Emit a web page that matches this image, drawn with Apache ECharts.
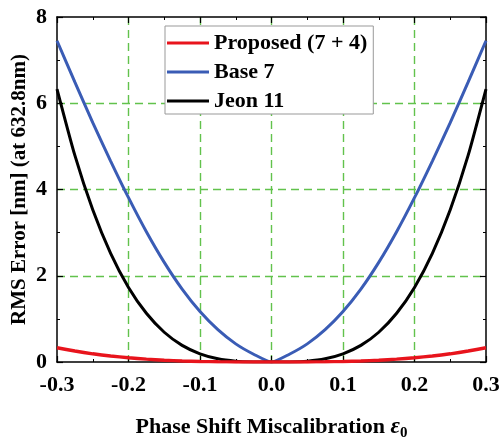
<!DOCTYPE html>
<html>
<head>
<meta charset="utf-8">
<script src="https://cdn.jsdelivr.net/npm/echarts@6/dist/echarts.min.js"></script>
<style>
html,body{margin:0;padding:0;background:#fff;}
#c{width:500px;height:439px;}
</style>
</head>
<body>
<div id="c"></div>
<script>
// Phase shift miscalibration (x)
var xs = [-0.3,-0.275,-0.25,-0.225,-0.2,-0.175,-0.15,-0.125,-0.1,-0.075,-0.05,-0.025,0,
          0.025,0.05,0.075,0.1,0.125,0.15,0.175,0.2,0.225,0.25,0.275,0.3];
// RMS error values
var proposed = [0.33,0.254,0.19,0.139,0.098,0.066,0.041,0.024,0.012,0.005,0.0015,0.0002,0,
                0.0002,0.0015,0.005,0.012,0.024,0.041,0.066,0.098,0.139,0.19,0.254,0.33];
var base7 = [7.45,6.49,5.55,4.66,3.81,3.02,2.31,1.69,1.17,0.75,0.42,0.18,0,
             0.18,0.42,0.75,1.17,1.69,2.31,3.02,3.81,4.66,5.55,6.49,7.45];
var jeon11 = [6.33,4.79,3.53,2.52,1.73,1.13,0.69,0.385,0.19,0.075,0.02,0.002,0,
              0.002,0.02,0.075,0.19,0.385,0.69,1.13,1.73,2.52,3.53,4.79,6.33];
var seriesNames = ['Proposed (7 + 4)','Base 7','Jeon 11'];
var xTicks = [-0.3,-0.2,-0.1,0.0,0.1,0.2,0.3];
var yTicks = [0,2,4,6,8];

function pairs(ys){ return xs.map(function(x,i){ return [x, ys[i]]; }); }

var font = '"Liberation Serif","Times New Roman",serif';
var green = '#62c24c';
var axisCommon = {
  axisLine:{show:true, onZero:false, lineStyle:{color:'#000', width:1.5}},
  axisTick:{show:true, inside:true, length:6, lineStyle:{color:'#000', width:1.2}},
  minorTick:{show:true, splitNumber:2, length:3, lineStyle:{color:'#000', width:1}}
};
function merge(a,b){ var o={}; for(var k in a) o[k]=a[k]; for(var k2 in b) o[k2]=b[k2]; return o; }

var chart = echarts.init(document.getElementById('c'), null, {renderer:'canvas'});
chart.setOption({
  animation:false,
  backgroundColor:'#fff',
  grid:{left:57, right:14, top:17, bottom:77, containLabel:false, outerBoundsMode:'none'},
  legend:{
    orient:'vertical', left:165, top:26,
    data:seriesNames,
    icon:'rect', itemWidth:42, itemHeight:3, itemGap:7,
    padding:[6,6,2,2],
    borderColor:'#999', borderWidth:1, backgroundColor:'#fff',
    textStyle:{fontFamily:font, fontWeight:'bold', fontSize:22, color:'#000', lineHeight:22}
  },
  xAxis:[
    merge(axisCommon,{
      type:'value', min:-0.3, max:0.3, interval:0.1, position:'bottom',
      axisLabel:{fontFamily:font, fontWeight:'bold', fontSize:22, color:'#000', margin:12,
        formatter:function(v){ return v.toFixed(1); }},
      splitLine:{show:true, showMinLine:false, showMaxLine:false, lineStyle:{color:green, type:[8,5], width:1.4}},
      name:'Phase Shift Miscalibration {e|ε}{s|0}', nameLocation:'middle', nameGap:52,
      nameTextStyle:{fontFamily:font, fontWeight:'bold', fontSize:22, color:'#000',
        rich:{e:{fontFamily:font, fontStyle:'italic', fontWeight:'bold', fontSize:23, color:'#000'},
              s:{fontFamily:font, fontWeight:'bold', fontSize:15, color:'#000', padding:[12,0,0,0]}}}
    }),
    merge(axisCommon,{
      type:'value', min:-0.3, max:0.3, interval:0.1, position:'top',
      axisLabel:{show:false}, splitLine:{show:false}
    })
  ],
  yAxis:[
    merge(axisCommon,{
      type:'value', min:0, max:8, interval:2, position:'left',
      axisLabel:{fontFamily:font, fontWeight:'bold', fontSize:22, color:'#000', margin:10},
      splitLine:{show:true, showMinLine:false, showMaxLine:false, lineStyle:{color:green, type:[8,5], width:1.4}},
      name:'RMS Error [nm] (at 632.8nm)', nameLocation:'middle', nameGap:27, nameMoveOverlap:false,
      nameTextStyle:{fontFamily:font, fontWeight:'bold', fontSize:21, color:'#000'}
    }),
    merge(axisCommon,{
      type:'value', min:0, max:8, interval:2, position:'right',
      axisLabel:{show:false}, splitLine:{show:false}
    })
  ],
  series:[
    {name:seriesNames[0], type:'line', data:pairs(proposed), smooth:0.2, symbol:'none',
     lineStyle:{color:'#e8141c', width:3.4}, itemStyle:{color:'#e8141c'}, z:3},
    {name:seriesNames[1], type:'line', data:pairs(base7), smooth:0.2, symbol:'none',
     lineStyle:{color:'#3a5cb5', width:3}, itemStyle:{color:'#3a5cb5'}, z:2},
    {name:seriesNames[2], type:'line', data:pairs(jeon11), smooth:0.2, symbol:'none',
     lineStyle:{color:'#000', width:3}, itemStyle:{color:'#000'}, z:2}
  ]
});
</script>
</body>
</html>
